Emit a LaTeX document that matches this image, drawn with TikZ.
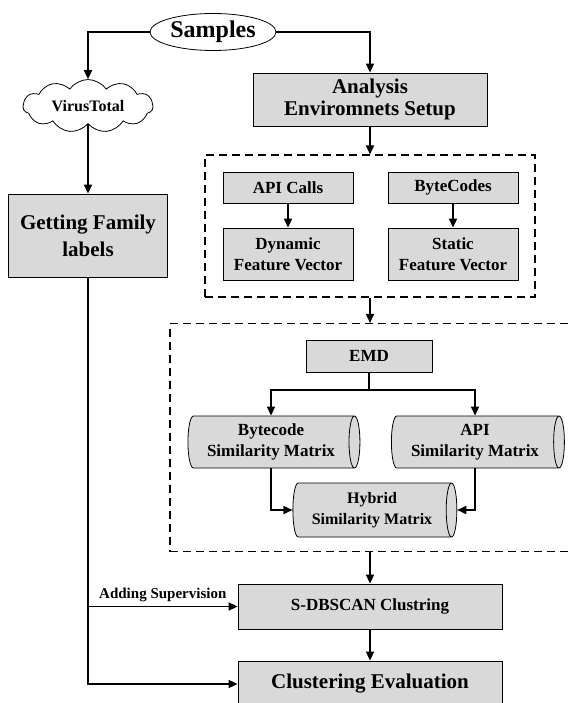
\documentclass[tikz,border=0pt]{standalone}
\usepackage{fontspec}
\setmainfont{Liberation Serif}
\usetikzlibrary{arrows.meta,shapes.geometric,shapes.symbols}
\definecolor{boxgray}{RGB}{217,217,217}

\begin{document}
\begin{tikzpicture}[x=1pt,y=-1pt,
    box/.style={draw, line width=0.8pt, fill=boxgray, inner sep=0pt, align=center,
      font=\bfseries\fontsize{17}{21}\selectfont},
    bigbox/.style={box, font=\bfseries\fontsize{21}{22}\selectfont},
    matrixcyl/.style={box, cylinder, aspect=0.3},
    group/.style={draw, line width=1.1pt, dash pattern=on 8pt off 5pt, inner sep=0pt},
    arr/.style={line width=1.6pt, -{Triangle[length=9pt,width=8pt]}}]
  \useasboundingbox (0,0) rectangle (570,703);
  % sources
  \node[ellipse, draw, line width=0.8pt, minimum width=126pt, minimum height=37pt, inner sep=0pt,
    font=\bfseries\fontsize{24}{24}\selectfont] (samples) at (213,32) {Samples};
  \node[cloud, cloud puffs=11, cloud puff arc=110, aspect=2.6, draw, line width=0.8pt, minimum width=130pt,
    minimum height=50pt, inner sep=0pt, font=\bfseries\fontsize{16}{16}\selectfont] (vt) at (88,106) {VirusTotal};
  \node[bigbox, minimum width=159pt, minimum height=83pt, font=\bfseries\fontsize{21}{27}\selectfont]
    (getfam) at (88,235.5) {Getting Family\\labels};
  \node[bigbox, minimum width=234pt, minimum height=53pt] (setup) at (370,99.5) {Analysis\\Enviromnets Setup};
  % feature extraction
  \node[group, minimum width=330pt, minimum height=142pt] (feat) at (370,226) {};
  \node[box, minimum width=130pt, minimum height=31pt] (apicalls) at (288,187.5) {API Calls};
  \node[box, minimum width=130pt, minimum height=31pt] (bytecodes) at (453,187.5) {ByteCodes};
  \node[box, minimum width=130pt, minimum height=52pt] (dynvec) at (288,254) {Dynamic\\Feature Vector};
  \node[box, minimum width=130pt, minimum height=52pt] (statvec) at (453,254) {Static\\Feature Vector};
  % similarity
  \node[group, minimum width=410pt, minimum height=228pt] (sim) at (375,437.5) {};
  \node[box, minimum width=126pt, minimum height=32pt] (emd) at (369,356) {EMD};
  \node[matrixcyl, minimum height=172pt, minimum width=52pt] (bcsim) at (271,442) {Bytecode\\Similarity Matrix};
  \node[matrixcyl, minimum height=173pt, minimum width=52pt] (apisim) at (475,442) {API\\Similarity Matrix};
  \node[matrixcyl, minimum height=164pt, minimum width=54pt, font=\bfseries\fontsize{16}{21}\selectfont]
    (hybsim) at (372,510) {Hybrid\\Similarity Matrix};
  \coordinate (split) at (369,390);
  % clustering
  \node[box, minimum width=264pt, minimum height=45pt] (sdb) at (370,606.5) {S-DBSCAN Clustring};
  \node[bigbox, minimum width=264pt, minimum height=46pt] (cleval) at (370,684) {Clustering Evaluation};

  \draw[arr] (samples.west) -| (vt.north);
  \draw[arr] (samples.east) -| (setup.north);
  \draw[arr] (vt.south) -- (getfam.north);
  \draw[arr] (setup.south) -- (feat.north);
  \draw[arr] (apicalls) -- (dynvec);
  \draw[arr] (bytecodes) -- (statvec);
  \draw[arr] (feat.south) -- (feat.south |- sim.north);
  \draw[line width=1.6pt] (emd.south) -- (split);
  \draw[arr] (split) -| (bcsim.north);
  \draw[arr] (split) -| (apisim.north);
  \draw[arr] (bcsim.south) |- (hybsim.west);
  \draw[arr] (apisim.south) |- (hybsim.east);
  \draw[arr] (sim.south -| sdb.north) -- (sdb.north);
  \draw[arr] (sdb) -- (cleval);
  \draw[arr] (getfam.south) |- (cleval.west);
  \draw[arr] (getfam.south |- sdb.west) -- node[above=1pt, font=\bfseries\fontsize{15}{15}\selectfont]
    {Adding Supervision} (sdb.west);
\end{tikzpicture}
\end{document}
